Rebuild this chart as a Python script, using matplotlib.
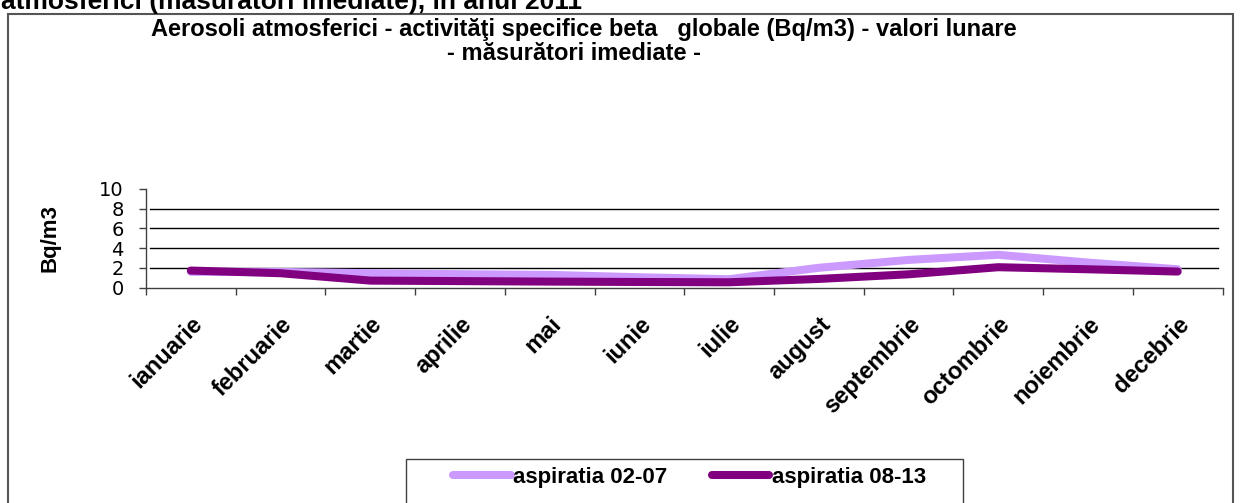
import matplotlib
matplotlib.use("Agg")
import matplotlib.pyplot as plt
from matplotlib.patches import Rectangle
from matplotlib.ticker import FixedLocator

plt.rcParams['font.family'] = ['Liberation Sans', 'DejaVu Sans']

# data
months = ['ianuarie', 'februarie', 'martie', 'aprilie', 'mai', 'iunie',
          'iulie', 'august', 'septembrie', 'octombrie', 'noiembrie', 'decebrie']
asp_02_07 = [1.6, 1.58, 1.45, 1.35, 1.28, 1.04, 0.84, 2.0, 2.8, 3.32, 2.53, 1.85]
asp_08_13 = [1.72, 1.45, 0.7, 0.65, 0.6, 0.56, 0.53, 0.87, 1.34, 2.06, 1.85, 1.62]
series_names = ['aspiratia 02-07', 'aspiratia 08-13']
y_ticks = [0, 2, 4, 6, 8, 10]

W, H = 1241, 503
fig = plt.figure(figsize=(W / 100, H / 100), dpi=100)

def fx(px):
    return px / W

def fy(py):
    return 1 - py / H

# plot area in pixel coords of the reference
left, right, top, bottom = 146, 1222.5, 189, 287.5
ax = fig.add_axes([fx(left), fy(bottom), fx(right - left), (bottom - top) / H])

x = list(range(len(months)))
ax.plot(x, asp_02_07, color='#CC99FF', lw=5.8, solid_capstyle='round',
        label=series_names[0], zorder=3)
ax.plot(x, asp_08_13, color='#800080', lw=5.8, solid_capstyle='round',
        label=series_names[1], zorder=4)

ax.set_xlim(-0.5, len(months) - 0.5)
ax.set_ylim(0, 10)

for g in y_ticks[1:-1]:
    ax.axhline(g, xmin=0.004, xmax=0.996, color='black', lw=1, zorder=1)

for s in ['top', 'right']:
    ax.spines[s].set_visible(False)
for s in ['left', 'bottom']:
    ax.spines[s].set_color('#404040')
    ax.spines[s].set_linewidth(1)

ax.set_yticks(y_ticks)
ax.set_yticklabels([str(v) for v in y_ticks], fontfamily='DejaVu Sans', fontsize=14)
ax.tick_params(axis='y', direction='out', length=5, width=1, color='#404040', pad=11)

ax.set_xticks(x)
ax.set_xticklabels(months, rotation=45, ha='right', va='top', rotation_mode='anchor',
                   fontsize=17, fontweight='bold')
ax.tick_params(axis='x', which='major', length=0, pad=18)
ax.xaxis.set_minor_locator(FixedLocator([i - 0.5 for i in range(len(months) + 1)]))
ax.tick_params(axis='x', which='minor', direction='out', length=5, width=1, color='#404040')

fig.text(fx(50), fy(238), 'Bq/m3', rotation=90, fontsize=16, fontweight='bold',
         ha='center', va='center')

# chart title
fig.text(fx(584), fy(36), 'Aerosoli atmosferici - activităţi specifice beta   globale (Bq/m3) - valori lunare',
         fontsize=17, fontweight='bold', ha='center', va='baseline')
fig.text(fx(574), fy(60), '- măsurători imediate -',
         fontsize=17, fontweight='bold', ha='center', va='baseline')

# cut-off document heading above the chart frame
fig.text(fx(1), fy(9), 'atmosferici (măsurători imediate), în anul 2011',
         fontsize=19, fontweight='bold', ha='left', va='baseline')

# chart frame
fig.add_artist(Rectangle((fx(8), -0.1), fx(1233 - 8), fy(14) + 0.1, transform=fig.transFigure,
                         fill=False, edgecolor='#555555', lw=1.5, clip_on=False))

# legend box
fig.add_artist(Rectangle((fx(406), -0.1), fx(963 - 406), fy(459) + 0.1, transform=fig.transFigure,
                         fill=False, edgecolor='#404040', lw=1, clip_on=False))
fig.legend(loc='center left', bbox_to_anchor=(fx(453), fy(477)), bbox_transform=fig.transFigure,
           ncol=2, frameon=False, borderpad=0, borderaxespad=0, handlelength=2.6,
           handletextpad=0.1, columnspacing=2.0,
           prop={'size': 16, 'weight': 'bold'})

fig.savefig('out.png', dpi=100)
